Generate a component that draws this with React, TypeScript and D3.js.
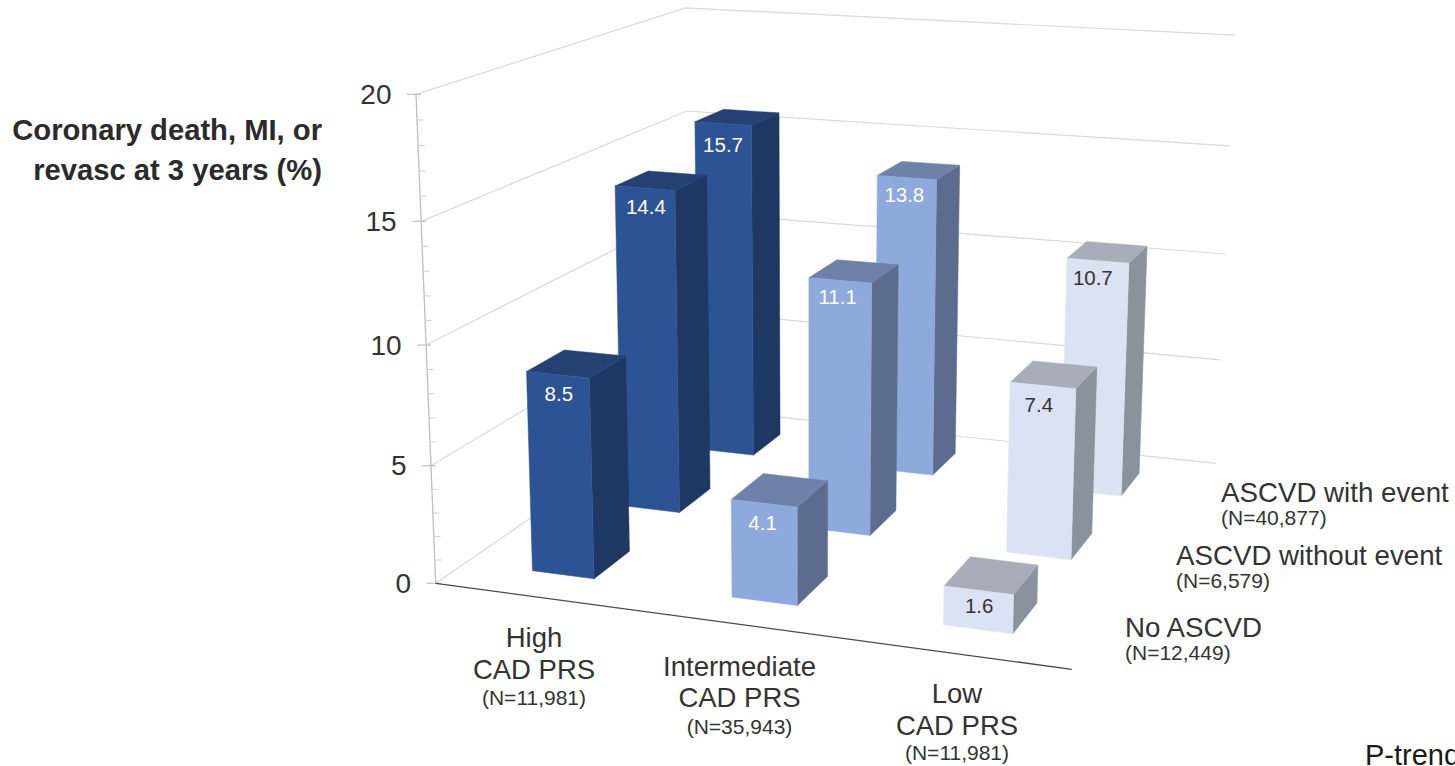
import React from "react";
import * as d3 from "d3";

// Chart data
const riskGroups = ["High", "Intermediate", "Low"];
const riskCounts = ["(N=11,981)", "(N=35,943)", "(N=11,981)"];
const cohorts = ["No ASCVD", "ASCVD without event", "ASCVD with event"];
const cohortCounts = ["(N=12,449)", "(N=6,579)", "(N=40,877)"];
const noAscvd = [8.5, 4.1, 1.6];
const ascvdWithoutEvent = [14.4, 11.1, 7.4];
const ascvdWithEvent = [15.7, 13.8, 10.7];
const seriesValues = [noAscvd, ascvdWithoutEvent, ascvdWithEvent];
const majorTicks = [0, 5, 10, 15, 20];
const minorTicks = d3.range(0, 21).filter((t) => t % 5 !== 0);

// Face colours per risk group: front, side, top, label
const palettes = [
  { front: "#2C5494", side: "#1F3763", top: "#254173", text: "#FFFFFF" },
  { front: "#8EA9DB", side: "#5B6C8E", top: "#6D81A9", text: "#FFFFFF" },
  { front: "#DAE2F3", side: "#8A929D", top: "#A7AEBA", text: "#333333" },
];

// Value label placement relative to the top centre of each front face, by cohort then risk group
const labelShiftX = [
  [1, -1.5, 0.5],
  [1, -2.5, -4],
  [0, -2.5, -5],
];
const labelShiftY = [
  [26, 26.7, 22.7],
  [25.6, 24, 26.7],
  [28, 24.6, 24],
];

const FONT = "'Liberation Sans', Arial, sans-serif";
const WIDTH = 1455;
const HEIGHT = 766;

// Perspective camera: maps (column, depth, height), each in 0..1, to the screen
const camera = [
  [544.9, 416, -40.5, 435.7],
  [29.12, -80.2, -493.7, 583.3],
  [-0.085, 0.2334, -0.05, 1],
];

function project(u: number, v: number, h: number): [number, number] {
  const row = (r: number[]) => r[0] * u + r[1] * v + r[2] * h + r[3];
  const w = row(camera[2]);
  return [row(camera[0]) / w, row(camera[1]) / w];
}

const uScale = d3.scaleBand<number>().domain([0, 1, 2]).range([0, 1]).paddingInner(0.685).paddingOuter(0.3425);
const vScale = d3.scaleBand<number>().domain([0, 1, 2]).range([0, 1]).paddingInner(0.604).paddingOuter(0.302);
const hScale = d3.scaleLinear().domain([0, 20]).range([0, 1]);

const outline = d3.line<[number, number]>().curve(d3.curveLinearClosed);
const segment = d3.line<[number, number]>();

type Bar = {
  key: string;
  value: number;
  s: number;
  c: number;
  u0: number;
  u1: number;
  v0: number;
  v1: number;
  h: number;
};

// Rows furthest from the viewer come first so nearer bars paint over them
const bars: Bar[] = [2, 1, 0].flatMap((s) =>
  riskGroups.map((_, c) => ({
    key: `${s}-${c}`,
    value: seriesValues[s][c],
    s,
    c,
    u0: uScale(c)!,
    u1: uScale(c)! + uScale.bandwidth(),
    v0: vScale(s)!,
    v1: vScale(s)! + vScale.bandwidth(),
    h: hScale(seriesValues[s][c]),
  }))
);

const categoryLabels = [
  { x: 534, y: 647, second: 678.5, third: 705 },
  { x: 739.5, y: 676, second: 707, third: 734 },
  { x: 957, y: 703, second: 734.5, third: 760 },
];
const cohortLabels = [
  { x: 1125, y: 637, sub: 660 },
  { x: 1176, y: 565, sub: 588 },
  { x: 1221, y: 501.5, sub: 525 },
];

function Face({ pts, fill }: { pts: [number, number][]; fill: string }) {
  return <path d={outline(pts)!} fill={fill} stroke={fill} strokeWidth={0.5} strokeLinejoin="round" />;
}

export default function App() {
  return (
    <svg
      width={WIDTH}
      height={HEIGHT}
      viewBox={`0 0 ${WIDTH} ${HEIGHT}`}
      style={{ position: "absolute", left: 0, top: 0, background: "#fff", fontFamily: FONT }}
    >
      {/* Walls: one gridline per major tick, running along the side wall and back wall */}
      {majorTicks.map((t) => {
        const h = hScale(t);
        return (
          <path
            key={`grid-${t}`}
            d={segment([project(0, 0, h), project(0, 1, h), project(1, 1, h)])!}
            fill="none"
            stroke="#D9D9D9"
            strokeWidth={1.2}
          />
        );
      })}

      {/* Value axis */}
      <path d={segment([project(0, 0, 0), project(0, 0, 1)])!} fill="none" stroke="#BFBFBF" strokeWidth={1.3} />
      {minorTicks.map((t) => {
        const [x, y] = project(0, 0, hScale(t));
        return <line key={`minor-${t}`} x1={x} x2={x + 6.5} y1={y} y2={y} stroke="#CFCFCF" strokeWidth={1} />;
      })}
      {majorTicks.map((t) => {
        const [x, y] = project(0, 0, hScale(t));
        return (
          <g key={`major-${t}`}>
            <line x1={x - 9} x2={x + 5} y1={y} y2={y} stroke="#BFBFBF" strokeWidth={1.2} />
            <text x={x - 24.5} y={y + 9.5} textAnchor="end" fontSize={28} fill="#333333">
              {t}
            </text>
          </g>
        );
      })}

      {/* Front edge of the floor */}
      <path d={segment([project(0, 0, 0), project(1, 0, 0)])!} fill="none" stroke="#4A4A4A" strokeWidth={1.3} />

      {/* Bars */}
      {bars.map((b) => {
        const p = palettes[b.c];
        const [lx, ly] = project((b.u0 + b.u1) / 2, b.v0, b.h);
        return (
          <g key={b.key}>
            <Face
              fill={p.side}
              pts={[project(b.u1, b.v0, 0), project(b.u1, b.v1, 0), project(b.u1, b.v1, b.h), project(b.u1, b.v0, b.h)]}
            />
            <Face
              fill={p.top}
              pts={[project(b.u0, b.v0, b.h), project(b.u1, b.v0, b.h), project(b.u1, b.v1, b.h), project(b.u0, b.v1, b.h)]}
            />
            <Face
              fill={p.front}
              pts={[project(b.u0, b.v0, 0), project(b.u1, b.v0, 0), project(b.u1, b.v0, b.h), project(b.u0, b.v0, b.h)]}
            />
            <text
              x={lx + labelShiftX[b.s][b.c]}
              y={ly + labelShiftY[b.s][b.c]}
              textAnchor="middle"
              fontSize={20.5}
              fill={p.text}
            >
              {b.value.toFixed(1)}
            </text>
          </g>
        );
      })}

      {/* Value axis title */}
      <g fontWeight="bold" fontSize={29.2} fill="#2B2B2B" textAnchor="end">
        <text x={322} y={140}>Coronary death, MI, or</text>
        <text x={322} y={179.5}>revasc at 3 years (%)</text>
      </g>

      {/* Risk group labels */}
      {riskGroups.map((g, i) => (
        <g key={g} textAnchor="middle" fill="#333333">
          <text x={categoryLabels[i].x} y={categoryLabels[i].y} fontSize={27.5}>{g}</text>
          <text x={categoryLabels[i].x} y={categoryLabels[i].second} fontSize={27.5}>CAD PRS</text>
          <text x={categoryLabels[i].x} y={categoryLabels[i].third} fontSize={21}>{riskCounts[i]}</text>
        </g>
      ))}

      {/* Cohort labels */}
      {cohorts.map((c, i) => (
        <g key={c} fill="#333333">
          <text x={cohortLabels[i].x} y={cohortLabels[i].y} fontSize={27.7}>{c}</text>
          <text x={cohortLabels[i].x} y={cohortLabels[i].sub} fontSize={21}>{cohortCounts[i]}</text>
        </g>
      ))}

      <text x={1365} y={765} fontSize={29} fill="#1A1A1A">P-trend</text>
    </svg>
  );
}
